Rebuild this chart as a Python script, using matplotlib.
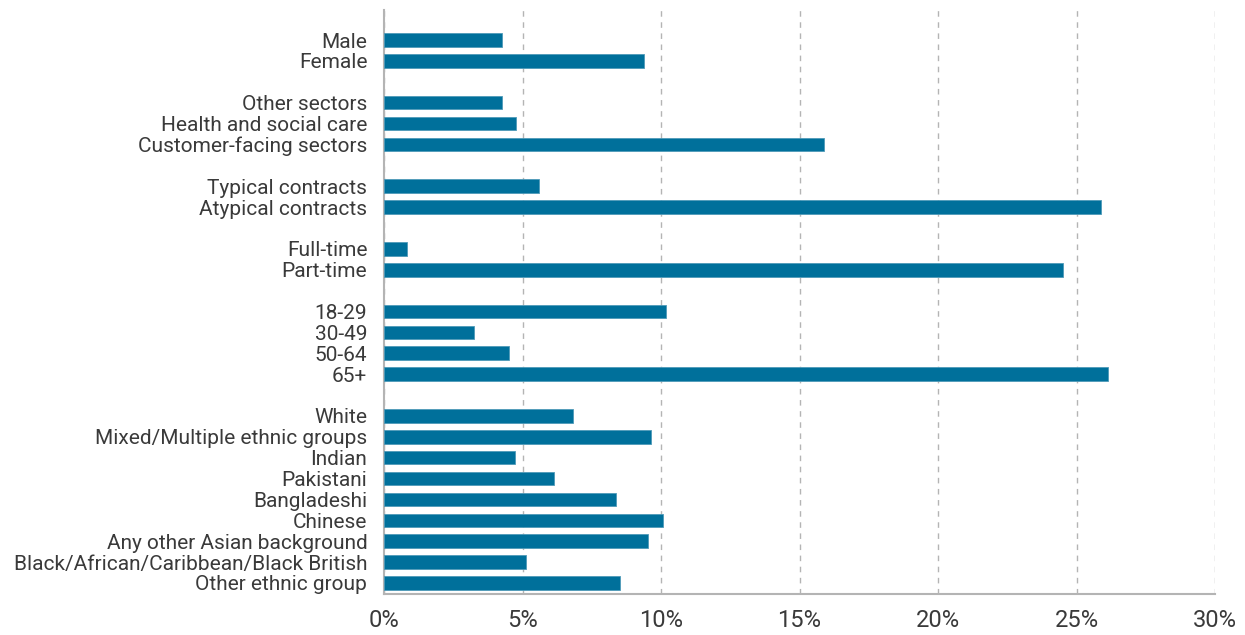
import numpy as np
import matplotlib
matplotlib.use('Agg')
import matplotlib.pyplot as plt

# groups of categories, separated by a blank row
sex_labels = ["Male", "Female"]
sex_values = [4.27, 9.38]

sector_labels = ["Other sectors", "Health and social care", "Customer-facing sectors"]
sector_values = [4.25, 4.77, 15.9]

contract_labels = ["Typical contracts", "Atypical contracts"]
contract_values = [5.6, 25.9]

hours_labels = ["Full-time", "Part-time"]
hours_values = [0.84, 24.5]

age_labels = ["18-29", "30-49", "50-64", "65+"]
age_values = [10.17, 3.24, 4.53, 26.15]

ethnic_labels = ["White", "Mixed/Multiple ethnic groups", "Indian", "Pakistani",
                 "Bangladeshi", "Chinese", "Any other Asian background",
                 "Black/African/Caribbean/Black British", "Other ethnic group"]
ethnic_values = [6.81, 9.64, 4.74, 6.15, 8.38, 10.07, 9.54, 5.13, 8.52]

groups = [
    (sex_labels, sex_values),
    (sector_labels, sector_values),
    (contract_labels, contract_values),
    (hours_labels, hours_values),
    (age_labels, age_values),
    (ethnic_labels, ethnic_values),
]

x_ticks = [0, 5, 10, 15, 20, 25, 30]

bar_color = "#00709b"
text_color = "#3a3a3a"
grid_color = "#b4b4b4"

plt.rcParams['font.family'] = ['Roboto', 'DejaVu Sans']

# compute row positions with a blank row between groups
labels, values, positions = [], [], []
row = 0
for names, vals in groups:
    for n, v in zip(names, vals):
        labels.append(n)
        values.append(v)
        positions.append(row)
        row += 1
    row += 1  # gap
last_row = positions[-1]

fig = plt.figure(figsize=(12.45, 6.35), dpi=100)
ax = fig.add_axes([384 / 1245, 1 - 594 / 635, (1215 - 384) / 1245, (594 - 10) / 635])

ax.barh(positions, values, height=0.65, color=bar_color, edgecolor="#4f9ab8",
        linewidth=0.6, zorder=3)

ax.set_xlim(0, 30)
ax.set_ylim(last_row + 0.53, -1.44)
ax.set_yticks(positions)
ax.set_yticklabels(labels, fontsize=15, color=text_color)
ax.set_xticks(x_ticks)
ax.set_xticklabels(["{}%".format(t) for t in x_ticks], fontsize=17, color=text_color)
ax.tick_params(axis='both', length=0)
ax.tick_params(axis='y', pad=12)
ax.tick_params(axis='x', pad=11)

ax.grid(axis='x', linestyle=(0, (4, 4)), color=grid_color, linewidth=1, zorder=0)
ax.spines['top'].set_visible(False)
ax.spines['right'].set_visible(False)
ax.spines['left'].set_color(grid_color)
ax.spines['bottom'].set_color(grid_color)
ax.spines['left'].set_linewidth(1.5)
ax.spines['bottom'].set_linewidth(1.5)

plt.savefig("out.png", format='png', dpi=100)
